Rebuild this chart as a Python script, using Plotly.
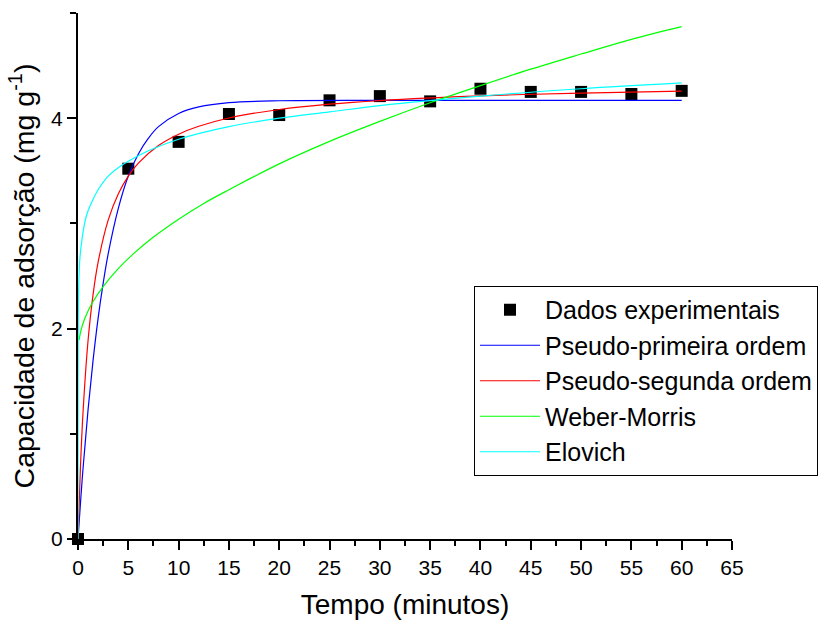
import plotly.graph_objects as go

# Experimental data
t_exp = [0, 5, 10, 15, 20, 25, 30, 35, 40, 45, 50, 55, 60]
q_exp = [0, 3.52, 3.775, 4.04, 4.03, 4.17, 4.21, 4.16, 4.28, 4.25, 4.25, 4.23, 4.26]

# Pseudo-primeira ordem
t_pfo = [0, 0.5, 1, 1.5, 2, 2.5, 3, 4, 5, 6, 7, 8, 10, 12, 15, 20, 30, 45, 60]
q_pfo = [0, 0.67, 1.23, 1.70, 2.10, 2.43, 2.71, 3.14, 3.45, 3.66, 3.81, 3.92, 4.045,
         4.107, 4.148, 4.166, 4.17, 4.17, 4.17]

# Pseudo-segunda ordem
t_pso = [0, 0.25, 0.5, 1, 1.5, 2, 3, 4, 5, 6, 8, 10, 12, 15, 20, 25, 30, 40, 50, 60]
q_pso = [0, 0.70, 1.205, 1.887, 2.326, 2.632, 3.031, 3.28, 3.45, 3.573, 3.74, 3.848,
         3.923, 4.002, 4.083, 4.134, 4.168, 4.212, 4.239, 4.257]

# Weber-Morris
t_wm = [0.1, 0.3, 0.6, 1, 1.5, 2.5, 4, 5.5, 7.5, 10, 12.5, 15, 20, 25, 30, 35, 40, 45, 50, 55, 60]
q_wm = [1.89, 1.985, 2.077, 2.168, 2.258, 2.40, 2.57, 2.71, 2.87, 3.04, 3.19, 3.32,
        3.566, 3.78, 3.97, 4.147, 4.31, 4.466, 4.61, 4.75, 4.87]

# Elovich
t_elo = [0, 0.005, 0.02, 0.05, 0.1, 0.2, 0.4, 0.7, 1, 1.5, 2, 3, 4, 5, 7, 10, 15, 20, 25, 30, 40, 50, 60]
q_elo = [0, 1.5, 1.95, 2.3, 2.5, 2.68, 2.85, 3.02, 3.12, 3.23, 3.32, 3.45, 3.53, 3.59,
         3.69, 3.80, 3.92, 4.00, 4.06, 4.12, 4.21, 4.28, 4.335]

FONT = "Arial, Liberation Sans, sans-serif"

fig = go.Figure()
fig.add_trace(go.Scatter(x=t_exp, y=q_exp, mode="markers", name="Dados experimentais",
                         marker=dict(symbol="square", size=12, color="black"),
                         cliponaxis=False))
fig.add_trace(go.Scatter(x=t_pfo, y=q_pfo, mode="lines", name="Pseudo-primeira ordem",
                         line=dict(color="#0000FF", width=1.2, shape="spline")))
fig.add_trace(go.Scatter(x=t_pso, y=q_pso, mode="lines", name="Pseudo-segunda ordem",
                         line=dict(color="#FF0000", width=1.2, shape="spline")))
fig.add_trace(go.Scatter(x=t_wm, y=q_wm, mode="lines", name="Weber-Morris",
                         line=dict(color="#00FF00", width=1.2, shape="spline")))
fig.add_trace(go.Scatter(x=t_elo, y=q_elo, mode="lines", name="Elovich",
                         line=dict(color="#00FFFF", width=1.2, shape="spline")))

fig.update_layout(
    width=833, height=623,
    margin=dict(l=78, r=101, t=13, b=84, autoexpand=False),
    paper_bgcolor="white", plot_bgcolor="white",
    font=dict(family=FONT, color="black"),
    showlegend=True,
    legend=dict(x=0.6055, y=0.481, xanchor="left", yanchor="top",
                bordercolor="black", borderwidth=1, bgcolor="white",
                font=dict(size=25, family=FONT), itemwidth=60,
                tracegroupgap=0),
    xaxis=dict(range=[0, 65], tick0=0, dtick=5, showgrid=False, zeroline=False,
               showline=True, linecolor="black", linewidth=2, automargin=False,
               ticks="outside", ticklen=9, tickwidth=2, tickcolor="black",
               tickfont=dict(size=21),
               minor=dict(dtick=2.5, ticks="outside", ticklen=5, tickwidth=2, tickcolor="black"),
               title=dict(text="Tempo (minutos)", font=dict(size=28), standoff=16)),
    yaxis=dict(range=[0, 5], tick0=0, dtick=2, showgrid=False, zeroline=False,
               showline=True, linecolor="black", linewidth=2, automargin=False,
               ticks="outside", ticklen=9, tickwidth=2, tickcolor="black",
               tickfont=dict(size=21),
               minor=dict(dtick=1, ticks="outside", ticklen=6, tickwidth=2, tickcolor="black"),
               title=dict(text="Capacidade de adsorção (mg g<sup>-1</sup>)", font=dict(size=28.5), standoff=8)),
)

fig.write_html("out.html")
